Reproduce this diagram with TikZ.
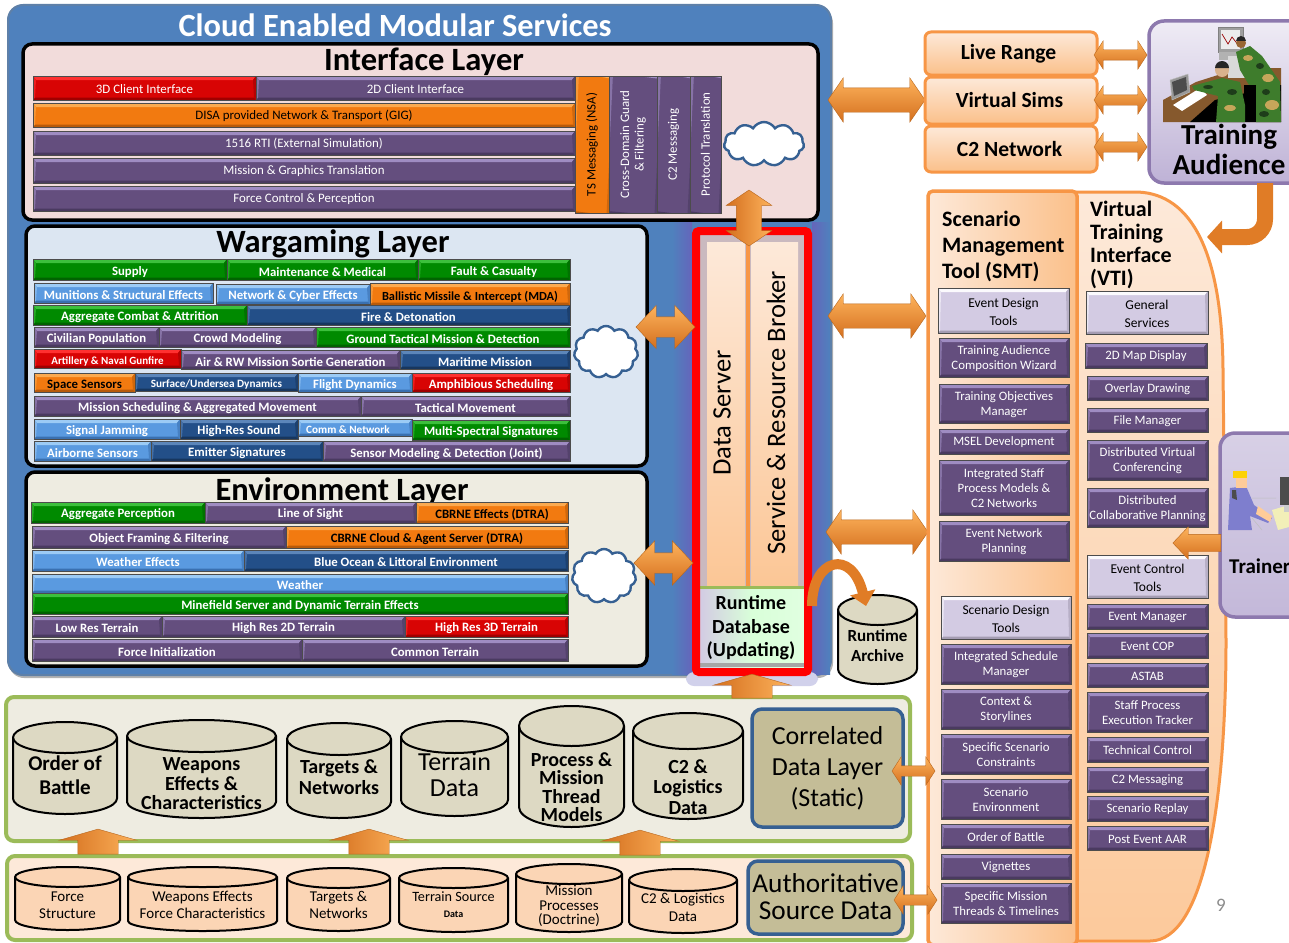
\documentclass[tikz,border=0pt]{standalone}
\usepackage{fontspec}
\setmainfont{Carlito}
\usetikzlibrary{shapes.arrows,shapes.symbols,arrows.meta}
\newcommand\fs[1]{\fontsize{#1}{\the\dimexpr#1pt*112/100\relax}\selectfont}
\newcommand\fss[2]{\fontsize{#1}{#2}\selectfont}
% palettes: M main, H highlight, D dark edge, X text
\definecolor{purM}{HTML}{644E7E}\definecolor{purH}{HTML}{9F8CC2}\definecolor{purD}{HTML}{4A3A60}\definecolor{purX}{HTML}{FFFFFF}
\definecolor{grnM}{HTML}{008A00}\definecolor{grnH}{HTML}{3CC03C}\definecolor{grnD}{HTML}{006400}\definecolor{grnX}{HTML}{FFFFFF}
\definecolor{lblM}{HTML}{5A9AE0}\definecolor{lblH}{HTML}{9CCBF5}\definecolor{lblD}{HTML}{3A70B0}\definecolor{lblX}{HTML}{FFFFFF}
\definecolor{dblM}{HTML}{234F88}\definecolor{dblH}{HTML}{5C86BA}\definecolor{dblD}{HTML}{17365E}\definecolor{dblX}{HTML}{FFFFFF}
\definecolor{orgM}{HTML}{F27A10}\definecolor{orgH}{HTML}{FBAA50}\definecolor{orgD}{HTML}{B85A0A}\definecolor{orgX}{HTML}{000000}
\definecolor{redM}{HTML}{D80404}\definecolor{redH}{HTML}{FF3030}\definecolor{redD}{HTML}{A00000}\definecolor{redX}{HTML}{FFFFFF}
\definecolor{lavM}{HTML}{D3CBE3}\definecolor{lavH}{HTML}{FBFAFD}\definecolor{lavD}{HTML}{A49CB2}\definecolor{lavX}{HTML}{000000}
\definecolor{panelblue}{HTML}{4F81BD}
\definecolor{glow}{HTML}{6565BB}
\definecolor{ifc}{HTML}{F2DCDB}
\definecolor{wgl}{HTML}{DCE6F2}
\definecolor{tan1}{HTML}{EEECE1}
\definecolor{tan2}{HTML}{DDD9C3}
\definecolor{tan3}{HTML}{C4BD97}
\definecolor{peach}{HTML}{FBD5B5}
\definecolor{peachl}{HTML}{FDE9D9}
\definecolor{peachd}{HTML}{FBC08A}
\definecolor{ogline}{HTML}{F79646}
\definecolor{gline}{HTML}{9BBB59}
\definecolor{bline}{HTML}{366092}
\definecolor{arrowT}{HTML}{FDB35C}
\definecolor{arrowB}{HTML}{D46F1E}
\definecolor{arrowE}{HTML}{B8661C}
\definecolor{arrowF}{HTML}{E07C26}
\definecolor{camo}{HTML}{3E7C2C}
\definecolor{camod}{HTML}{1E3D1A}
\definecolor{camot}{HTML}{C6A65A}
\newcounter{cellno}
\def\ppb{path picture bounding box}
\def\celldrop{0pt}
\tikzset{
 cellfont/.style={font=\fs{12.9}},
 cellbox/.style={draw=gray!60!black,line width=.5pt,fill=#1M,inner sep=0pt,outer sep=0pt,
  path picture={
   \fill[#1H] (\ppb.north west)--(\ppb.north east)--([shift={(-3pt,-4pt)}]\ppb.north east)--([shift={(3pt,-4pt)}]\ppb.north west)--cycle;
   \fill[#1D] (\ppb.south west)--(\ppb.south east)--([shift={(-2pt,2.5pt)}]\ppb.south east)--([shift={(2pt,2.5pt)}]\ppb.south west)--cycle;
   \fill[#1H!60!#1M] (\ppb.north west)--([shift={(3pt,-4pt)}]\ppb.north west)--([shift={(2pt,2.5pt)}]\ppb.south west)--(\ppb.south west)--cycle;
   \fill[#1D!60!#1M] (\ppb.north east)--([shift={(-3pt,-4pt)}]\ppb.north east)--([shift={(-2pt,2.5pt)}]\ppb.south east)--(\ppb.south east)--cycle;
  }},
 celltext/.style={text=#1X,align=center,inner sep=0pt,cellfont},
 layerbox/.style={draw=black,line width=3.5pt,rounded corners=9pt},
 sourcebox/.style={draw=ogline,line width=3pt,rounded corners=6pt,
    top color=peachl,bottom color=peachd,inner sep=0pt,align=center,font=\fs{21.6}\bfseries},
 cloudy/.style={shape=cloud,cloud puffs=11,cloud puff arc=120,draw=bline,line width=2.4pt,fill=white,inner sep=0pt,outer sep=0pt},
 arrowfill/.style={top color=arrowT,bottom color=arrowB,draw=arrowE,line width=.4pt,outer sep=0pt},
 upfill/.style={left color=arrowB,right color=arrowT,draw=arrowE,line width=.4pt,rotate=90},
 twoway/.style n args={4}{shape=double arrow,arrowfill,minimum height=#1,minimum width=0pt,inner xsep=0pt,inner ysep=#3,
    double arrow head extend=#2,double arrow tip angle=#4},
 oneway/.style n args={4}{shape=single arrow,arrowfill,minimum height=#1,minimum width=0pt,inner xsep=0pt,inner ysep=#3,
    single arrow head extend=#2,single arrow tip angle=#4},
 layertitle/.style={font=\fs{32.5}\bfseries,inner sep=0pt},
 groupbox/.style={draw=gline,line width=4pt,rounded corners=8pt},
 databox/.style={draw=bline,line width=3.5pt,rounded corners=10pt,fill=tan3,align=center,inner sep=0pt,font=\fss{26}{31}},
 headline/.style={font=\fss{22}{26}\bfseries,align=left,inner sep=0pt,anchor=north west},
}
\newcommand\cell[6]{\stepcounter{cellno}%
 \pgfmathsetmacro\cw{#3-#1}\pgfmathsetmacro\ch{#4-#2}%
 \node (cell\thecellno) [cellbox=#5,minimum width=\cw pt,minimum height=\ch pt] at ({(#1+#3)/2},{(#2+#4)/2}) {};
 \node (text\thecellno) [celltext=#5,yshift=-\celldrop] at (cell\thecellno.center) {#6};}
\newcommand\vcell[6]{\stepcounter{cellno}%
 \pgfmathsetmacro\cw{#3-#1}\pgfmathsetmacro\ch{#4-#2}%
 \node (cell\thecellno) [cellbox=#5,rotate=90,minimum width=\ch pt,minimum height=\cw pt] at ({(#1+#3)/2},{(#2+#4)/2}) {};
 \node (text\thecellno) [celltext=#5,rotate=90] at (cell\thecellno.center) {#6};}
\newcommand\lavcell[5]{\begingroup\tikzset{cellfont/.style={font=\fss{13.5}{18}}}\def\celldrop{1pt}\cell{#1}{#2}{#3}{#4}{lav}{#5}\endgroup}
\newcommand\cf[1]{\def\cylf{#1}}
% name x1 y1 x2 y2 ry fill texty text
\newcommand\cyl[9]{%
 \pgfmathsetmacro\ca{(#4-#2)/2}\pgfmathsetmacro\cc{(#4+#2)/2}%
 \filldraw[fill=#7,draw=black,line width=2pt]
   (#2,#3+#6) -- (#2,#5-#6) arc[start angle=180,end angle=360,x radius=\ca pt,y radius=#6 pt]
   -- (#4,#3+#6) arc[start angle=0,end angle=180,x radius=\ca pt,y radius=#6 pt] -- cycle;
 \draw[black,line width=2pt] (#2,#3+#6) arc[start angle=180,end angle=360,x radius=\ca pt,y radius=#6 pt];
 \node (#1) [align=center,inner sep=0pt,font=\cylf] at (\cc,#8) {#9};}
\begin{document}
\begin{tikzpicture}[x=1pt,y=-1pt]
\path[use as bounding box] (0,0) rectangle (1289,942);
\fill[white] (0,0) rectangle (1289,942);
\clip (0,0) rectangle (1289,942);

% ---------- main blue panel
\fill[black!30,rounded corners=15pt] (9,8) rectangle (833,678);
\filldraw[fill=panelblue,draw=bline!80!white,line width=2pt,rounded corners=15pt] (8,5) rectangle (831,675);
\node (cloudtitle) [font=\fs{32.4}\bfseries,text=white,inner sep=0pt] at (395,25) {Cloud Enabled Modular Services};
\shade[left color=panelblue,right color=glow] (672,222) rectangle (692,674);
\shade[left color=glow,right color=panelblue] (812,222) rectangle (830,674);
\fill[glow!30!white,rounded corners=8pt] (686,672) rectangle (818,686);

% ---------- interface layer
\filldraw[layerbox,fill=ifc] (23,44) rectangle (818,220);
\node (iftitle) [layertitle] at (424,62) {Interface Layer};
\def\celldrop{.6pt}
\cell{33}{76}{256}{100}{red}{3D Client Interface}
\cell{256}{76}{575}{100}{pur}{2D Client Interface}
\cell{33}{103}{575}{127}{org}{DISA provided Network \& Transport (GIG)}
\cell{33}{131}{575}{155}{pur}{1516 RTI (External Simulation)}
\cell{33}{158}{575}{183}{pur}{Mission \& Graphics Translation}
\cell{33}{186}{575}{211}{pur}{Force Control \& Perception}
\vcell{575}{76}{609}{213}{org}{TS Messaging (NSA)}
\vcell{609}{76}{657}{213}{pur}{Cross-Domain Guard\\\& Filtering}
\vcell{657}{76}{690}{213}{pur}{C2 Messaging}
\vcell{690}{76}{721}{213}{pur}{Protocol Translation}
\node (cloudA) [cloudy,minimum width=80pt,minimum height=44pt] at (764,144) {};

% ---------- wargaming layer
\filldraw[layerbox,fill=wgl] (26,226) rectangle (647,466);
\node (wgtitle) [layertitle] at (333,244) {Wargaming Layer};
\tikzset{cellfont/.style={font=\fs{12.8}\bfseries}}
\def\celldrop{2.5pt}
\cell{33}{259}{227}{280}{grn}{Supply}
\cell{227}{259}{418}{280}{grn}{Maintenance \& Medical}
\cell{418}{259}{570}{280}{grn}{Fault \& Casualty}
\cell{34}{283}{213}{303}{lbl}{Munitions \& Structural Effects}
\cell{216}{284}{370}{304}{lbl}{Network \& Cyber Effects}
\cell{370}{283}{570}{305}{org}{\fs{12.4}\bfseries Ballistic Missile \& Intercept (MDA)}
\cell{33}{305}{247}{325}{grn}{Aggregate Combat \& Attrition}
\cell{247}{305}{570}{325}{dbl}{Fire \& Detonation}
\cell{34}{327}{159}{347}{pur}{Civilian Population}
\cell{159}{327}{316}{347}{pur}{Crowd Modeling}
\cell{316}{327}{570}{347}{grn}{Ground Tactical Mission \& Detection}
\cell{34}{349}{181}{368}{red}{\fs{11}\bfseries Artillery \& Naval Gunfire}
\cell{181}{350}{400}{369}{pur}{Air \& RW Mission Sortie Generation}
\cell{400}{350}{570}{369}{dbl}{Maritime Mission}
\cell{34}{373}{135}{392}{org}{Space Sensors}
\cell{135}{373}{298}{391}{dbl}{\fs{11.2}\bfseries Surface/Undersea Dynamics}
\cell{298}{373}{412}{392}{lbl}{Flight Dynamics}
\cell{412}{373}{570}{392}{red}{Amphibious Scheduling}
\cell{34}{396}{361}{416}{pur}{Mission Scheduling \& Aggregated Movement}
\cell{361}{396}{570}{416}{pur}{Tactical Movement}
\cell{34}{419}{180}{439}{lbl}{Signal Jamming}
\cell{180}{419}{298}{439}{dbl}{High-Res Sound}
\cell{298}{419}{412}{436}{lbl}{\fs{11.2}\bfseries Comm \& Network\hspace*{14pt}}
\cell{412}{420}{570}{440}{grn}{Multi-Spectral Signatures}
\cell{34}{441}{151}{461}{lbl}{Airborne Sensors}
\cell{151}{441}{323}{461}{dbl}{Emitter Signatures}
\cell{323}{441}{570}{461}{pur}{Sensor Modeling \& Detection (Joint)}
\node (cloudB) [cloudy,minimum width=64pt,minimum height=52pt] at (606,352) {};

% ---------- environment layer
\filldraw[layerbox,fill=tan1] (26,472) rectangle (647,666);
\node (envtitle) [layertitle] at (342,491.5) {Environment Layer};
\def\celldrop{2pt}
\cell{31}{502}{205}{523}{grn}{Aggregate Perception}
\cell{205}{502}{416}{523}{pur}{Line of Sight}
\cell{416}{502}{568}{523}{org}{CBRNE Effects (DTRA)}
\cell{32}{526}{286}{548}{pur}{Object Framing \& Filtering}
\cell{286}{526}{568}{548}{org}{CBRNE Cloud \& Agent Server (DTRA)}
\cell{32}{550}{244}{571}{lbl}{Weather Effects}
\cell{244}{550}{568}{571}{dbl}{Blue Ocean \& Littoral Environment}
\cell{32}{574}{568}{593}{lbl}{Weather}
\cell{32}{593}{568}{614}{grn}{Minefield Server and Dynamic Terrain Effects}
\cell{32}{616}{162}{637}{pur}{Low Res Terrain}
\cell{162}{616}{405}{637}{pur}{High Res 2D Terrain}
\cell{405}{616}{568}{637}{red}{High Res 3D Terrain}
\cell{32}{639}{302}{661}{pur}{Force Initialization}
\cell{302}{639}{568}{661}{pur}{Common Terrain}
\node (cloudC) [cloudy,minimum width=64pt,minimum height=54pt] at (604,576) {};

% ---------- data server column
\fill[black!10!lavM!80!peachd] (696,231) rectangle (808,672);
\shade[top color=peachl,bottom color=peachd!90!white] (707,242) rectangle (745,587);
\shade[top color=peachl,bottom color=peachd!90!white] (751,242) rectangle (798,587);
\draw[ogline,line width=3.5pt] (748,240) -- (748,587);
\node (dataserver) [rotate=90,font=\fs{26.6},inner sep=0pt] at (722,413) {Data Server};
\node (broker) [rotate=90,font=\fs{26.6},inner sep=0pt] at (776,413) {Service \& Resource Broker};
\shade[left color=lavM,right color=green!12!white,middle color=green!15!white] (700,588) rectangle (804,667);
\fill[gray!70] (700,663) rectangle (804,667);
\draw[gline,line width=3pt] (700,587) -- (804,587);
\node (runtimedb) [align=center,inner sep=0pt,font=\fss{20}{23.5}\bfseries] at (751,628) {Runtime\\Database\\(Updating)};
\draw[red,line width=8pt,rounded corners=3pt] (696,231) rectangle (808,672);

% ---------- arrows on column
\node (ifarrow) [twoway={56pt}{10pt}{12.5pt}{112},upfill] at (749,218) {};
\node (wgarrow) [twoway={59pt}{11.5pt}{10pt}{94}] at (665.5,327) {};
\node (envarrow) [twoway={59pt}{12pt}{10pt}{94}] at (663.5,563) {};
\node (toparrow) [twoway={97pt}{10pt}{12pt}{111}] at (876.5,100) {};
\node (midarrow) [twoway={98pt}{10pt}{12pt}{111}] at (877,316) {};
\node (lowarrow) [twoway={102pt}{10pt}{12pt}{111}] at (877,532) {};

% ---------- runtime archive
\cf{\fss{17}{20}\bfseries}
\cyl{archive}{838}{595}{917}{684}{15}{tan2}{646}{Runtime\\Archive}
\coordinate (dbout) at (812,606);
\coordinate (archin) at (866,606);
\draw[arrowF,line width=10pt,-{Triangle[width=25pt,length=14pt]}] (dbout) .. controls (812,558) and (852,548) .. (archin);

% ---------- correlated group
\filldraw[groupbox,fill=tan1] (6,697) rectangle (910,841);
\cf{\fss{21}{24}\bfseries}
\cyl{cOB}{13}{722}{117}{814}{15.5}{tan2}{775}{Order of\\Battle}
\cf{\fss{20}{19.5}\bfseries}
\cyl{cWE}{127}{720}{276}{818}{16}{tan2}{784}{Weapons\\Effects \&\\Characteristics}
\cf{\fss{20}{20.5}\bfseries}
\cyl{cTN}{287}{723}{391}{818}{16}{tan2}{777}{Targets \&\\Networks}
\cf{\fss{26}{26}}
\cyl{cTD}{401}{721}{508}{816}{16}{tan2}{775}{Terrain\\Data}
\cf{\fss{20}{18.5}\bfseries}
\cyl{cPM}{519}{706}{624}{827}{20}{tan2}{787}{Process \&\\Mission\\Thread\\Models}
\cf{\fss{20}{20.5}\bfseries}
\cyl{cC2}{633}{713}{743}{819}{18}{tan2}{787}{C2 \&\\Logistics\\Data}
\node (cdl) [databox,minimum width=151pt,minimum height=118pt] at (827.5,768) {\raisebox{-3.5pt}{Correlated}\\\raisebox{-3.5pt}{Data Layer}\\\raisebox{-3.5pt}{(Static)}};

% ---------- authoritative group
\filldraw[groupbox,fill=peachl] (7,856) rectangle (912,940);
\cf{\fss{15}{17}}
\cyl{sFS}{15}{867}{120}{930}{10}{peach}{905}{Force\\Structure}
\cyl{sWE}{128}{867}{277}{931}{10}{peach}{905}{Weapons Effects\\Force Characteristics}
\cyl{sTN}{287}{868}{390}{931}{10}{peach}{905}{Targets \&\\Networks}
\cf{\fss{14.2}{16}}
\cyl{sTS}{399}{868}{508}{932}{10}{peach}{905}{Terrain Source\\\fs{10}\bfseries Data}
\cf{\fss{15}{14.5}}
\cyl{sMP}{516}{864}{622}{932}{10}{peach}{906}{Mission\\Processes\\(Doctrine)}
\cf{\fss{15}{18}}
\cyl{sC2}{629}{869}{737}{933}{11}{peach}{907}{C2 \& Logistics\\Data}
\node (asd) [databox,font=\fss{27.3}{27},minimum width=155pt,minimum height=73pt] at (825.5,897.5) {\raisebox{1pt}{Authoritative}\\\raisebox{1pt}{Source Data}};

% up arrows
\node (up1) [oneway={25pt}{18.5pt}{20pt}{148},upfill] at (98,844.5) {};
\node (up2) [oneway={25pt}{18.5pt}{20pt}{148},upfill] at (369,844.5) {};
\node (up3) [oneway={25pt}{18.5pt}{20pt}{148},upfill] at (640,845.5) {};
\node (up4) [oneway={24pt}{18.5pt}{20pt}{148},upfill] at (752,689) {};

% ---------- right: VTI + SMT panels
\filldraw[top color=peachl,bottom color=peachd!85!white,draw=ogline,line width=3pt]
  (1060,192) -- (1135,192) .. controls (1185,192) and (1222,240) .. (1223,370)
  -- (1226,640) .. controls (1226,800) and (1205,941) .. (1150,941) -- (1060,941) -- cycle;
\filldraw[left color=peachl,right color=peachd,draw=ogline,line width=3.5pt,rounded corners=5pt] (928,191) rectangle (1077,945);
\node (smt) [headline] at (942,211) {Scenario\\Management\\Tool (SMT)};
\node (vti) [headline,font=\fss{22}{23}\bfseries] at (1090,201) {Virtual\\Training\\Interface\\(VTI)};
\tikzset{cellfont/.style={font=\fss{12.8}{15}}}
\def\celldrop{1pt}
\lavcell{938}{288}{1069}{333}{Event Design\\Tools}
\cell{939}{338}{1069}{377}{pur}{Training Audience\\Composition Wizard}
\cell{939}{384}{1069}{423}{pur}{Training Objectives\\Manager}
\cell{939}{429}{1069}{454}{pur}{MSEL Development}
\cell{939}{460}{1069}{515}{pur}{Integrated Staff\\Process Models \&\\C2 Networks}
\cell{939}{521}{1069}{561}{pur}{Event Network\\Planning}
\lavcell{941}{596}{1071}{639}{Scenario Design\\Tools}
\cell{941}{644}{1071}{684}{pur}{Integrated Schedule\\Manager}
\cell{941}{689}{1071}{729}{pur}{Context \&\\Storylines}
\cell{941}{734}{1071}{774}{pur}{Specific Scenario\\Constraints}
\cell{941}{779}{1071}{819}{pur}{Scenario\\Environment}
\cell{941}{824}{1071}{848}{pur}{Order of Battle}
\cell{941}{854}{1071}{879}{pur}{Vignettes}
\cell{941}{883}{1071}{923}{pur}{Specific Mission\\Threads \& Timelines}
\lavcell{1086}{291}{1208}{334}{General\\Services}
\cell{1085}{343}{1207}{368}{pur}{2D Map Display}
\cell{1087}{376}{1208}{400}{pur}{Overlay Drawing}
\cell{1087}{408}{1208}{432}{pur}{File Manager}
\cell{1087}{440}{1208}{480}{pur}{Distributed Virtual\\Conferencing}
\cell{1087}{488}{1208}{527}{pur}{Distributed\\Collaborative Planning}
\lavcell{1087}{555}{1208}{598}{Event Control\\Tools}
\cell{1087}{604}{1208}{629}{pur}{Event Manager}
\cell{1087}{633}{1208}{658}{pur}{Event COP}
\cell{1087}{663}{1208}{687}{pur}{ASTAB}
\cell{1087}{692}{1208}{732}{pur}{Staff Process\\Execution Tracker}
\cell{1087}{737}{1208}{762}{pur}{Technical Control}
\cell{1087}{767}{1208}{792}{pur}{C2 Messaging}
\cell{1087}{796}{1208}{821}{pur}{Scenario Replay}
\cell{1087}{826}{1208}{850}{pur}{Post Event AAR}
\node (pageno) [font=\fs{19},text=black!45,inner sep=0pt] at (1221,905) {9};

\node (cdlarrow) [twoway={43pt}{9pt}{5pt}{114}] at (913.5,771) {};
\node (asdarrow) [twoway={43pt}{9pt}{5pt}{114}] at (915.5,900) {};

% ---------- top right sources
\node (live) [sourcebox,minimum width=172pt,minimum height=43pt] at (1011,53.5) {\raisebox{-3.5pt}{Live Range}\hspace*{5pt}};
\node (vsims) [sourcebox,minimum width=172pt,minimum height=47pt] at (1011,100.5) {\raisebox{0pt}{Virtual Sims}\hspace*{3pt}};
\node (c2net) [sourcebox,minimum width=172pt,minimum height=46pt] at (1011,149) {\raisebox{0pt}{C2 Network}\hspace*{3pt}};

% ---------- training audience
\filldraw[top color=lavH!70!lavM,bottom color=lavM!60!purH,draw=purH!70!purM,line width=3.5pt,rounded corners=15pt] (1149,21) rectangle (1310,183);
\node (tatext) [align=center,inner sep=0pt,font=\fss{29}{30}\bfseries] at (1229,149) {Training\\Audience};
% clip art
\fill[brown!70!black] (1163,122)--(1163,100)--(1196,82)--(1240,68)--(1281,68)--(1281,122)--cycle;
\fill[black] (1190,122)--(1215,100)--(1281,85)--(1281,122)--cycle;
\filldraw[fill=gray!75,draw=gray] (1218,27) rectangle (1243,52);
\fill[gray!15] (1221,30) rectangle (1240,49);
\draw[red!60!black,line width=.7pt] (1222,34)--(1228,44)--(1232,37)--(1239,46);
\fill[gray!60] (1219,52) rectangle (1241,60);
\fill[gray!30] (1228,56) rectangle (1252,78);
\filldraw[fill=gray!80,draw=gray!50] (1170,80)--(1188,74)--(1190,92)--(1172,100)--cycle;
\fill[black!70] (1172,82)--(1186,77)--(1187,90)--(1174,96)--cycle;
\fill[white] (1173,105)--(1200,88)--(1207,95)--(1182,111)--cycle;
\fill[camo] (1236,52)--(1250,46)--(1262,56)--(1280,82)--(1281,122)--(1256,122)--(1252,90)--(1240,70)--cycle;
\fill[camot] (1248,58) ellipse [x radius=5pt,y radius=3pt];
\fill[camot] (1268,78) ellipse [x radius=6pt,y radius=4pt];
\fill[camot] (1272,105) ellipse [x radius=7pt,y radius=5pt];
\fill[camod] (1260,66) ellipse [x radius=4pt,y radius=3pt];
\fill[camod] (1266,92) ellipse [x radius=4pt,y radius=3pt];
\fill[camod] (1264,114) ellipse [x radius=5pt,y radius=3pt];
\fill[brown!80!black] (1241,43) circle [radius=5pt];
\fill[black!85] (1236,41) arc[start angle=180,end angle=0,radius=5pt] -- cycle;
\fill[black] (1244,85) rectangle (1256,122);
\fill[camo] (1192,86)--(1222,78)--(1240,82)--(1245,105)--(1245,122)--(1216,122)--(1218,96)--(1194,90)--cycle;
\fill[camod] (1232,92) ellipse [x radius=5pt,y radius=3pt];
\fill[camot] (1230,108) ellipse [x radius=6pt,y radius=3pt];
\fill[camod] (1208,87) ellipse [x radius=5pt,y radius=2pt];
\fill[brown!60!white] (1222,70) circle [radius=7pt];
\fill[black!85] (1215,68) arc[start angle=180,end angle=0,radius=7pt] -- cycle;

% ---------- trainer
\filldraw[top color=lavM!90!white,bottom color=lavM!70!purH,draw=purH!70!purM,line width=3.5pt,rounded corners=15pt] (1220,433) rectangle (1310,617);
\node (trainertext) [anchor=west,font=\fs{21}\bfseries,inner sep=0pt] at (1229,566) {Trainer};
\fill[blue!45!gray!70!white] (1230,488)--(1246,486)--(1254,505)--(1272,518)--(1268,523)--(1250,516)--(1252,530)--(1228,530)--cycle;
\fill[black!70] (1232,490)--(1236,490)--(1237,500)--(1232,498)--cycle;
\fill[orange!40!white] (1236,474) rectangle (1247,488);
\fill[yellow!70!orange] (1233,471) rectangle (1247,478);
\fill[orange!40!white] (1258,506)--(1272,516)--(1270,522)--(1256,514)--cycle;
\fill[black!20!yellow!30!white] (1272,510)--(1289,505)--(1289,527)--(1278,530)--cycle;
\fill[black!70] (1280,477) rectangle (1289,505);
\fill[gray!40] (1284,505) rectangle (1289,512);
\draw[gray!50,line width=.5pt] (1252,498) -- (1276,498) (1252,518) -- (1262,530);
\node (trainerarrow) [oneway={48pt}{7.5pt}{8.5pt}{93},shape border rotate=180] at (1201,543) {};

% ---------- small double arrows to training audience
\node (liveta) [twoway={53pt}{9pt}{5pt}{114}] at (1120.5,55) {};
\node (simsta) [twoway={53pt}{9pt}{5pt}{114}] at (1120.5,100) {};
\node (c2ta) [twoway={53pt}{9pt}{5pt}{114}] at (1120.5,147) {};

% ---------- bent arrow from training audience into VTI
\coordinate (taout) at (1265,183);
\coordinate (vtiin) at (1207,237);
\draw[arrowF,line width=16pt,rounded corners=18pt,-{Triangle[width=32pt,length=15pt]}] (taout) -- (taout |- vtiin) -- (vtiin);
\end{tikzpicture}
\end{document}
